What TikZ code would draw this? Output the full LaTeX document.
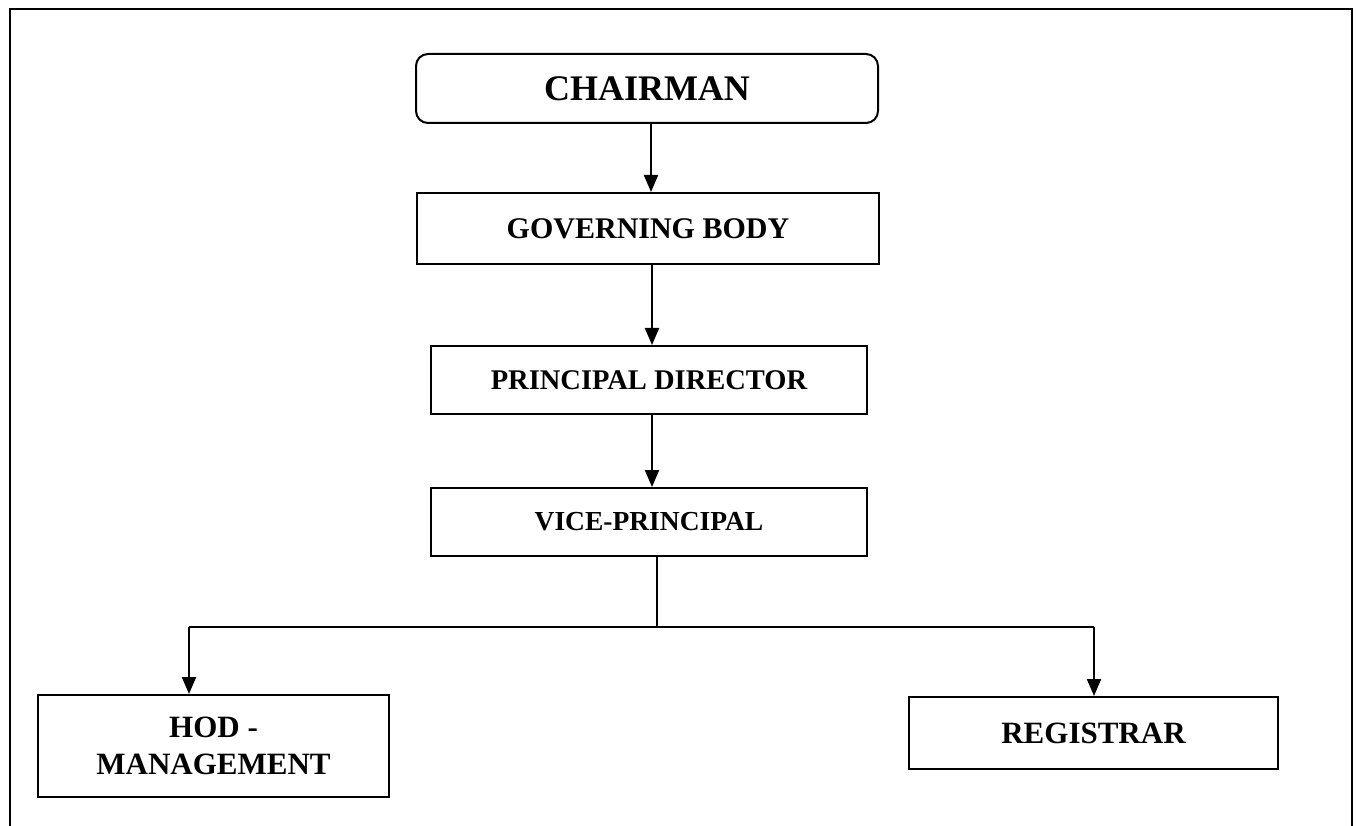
\documentclass[tikz,border=0pt]{standalone}
\usepackage{fontspec}
\setmainfont{Liberation Serif}
\usetikzlibrary{arrows.meta}
\tikzset{
	post/.style={draw,line width=2pt,minimum width=#1,inner sep=0pt,font=\bfseries},
	arr/.style={line width=2pt,-{Triangle[length=17pt,width=14pt]}}
}
\begin{document}
\begin{tikzpicture}[x=1pt,y=-1pt]
		\useasboundingbox (0,0) rectangle (1358,826);
		\draw[line width=2pt] (10,830) -- (10,9) -- (1352,9) -- (1352,830);
		\node[post=462pt,minimum height=69pt,rounded corners=12pt,font=\bfseries\fontsize{36}{40}\selectfont] at (647,88.5) (chair) {CHAIRMAN};
		\node[post=462pt,minimum height=71pt,font=\bfseries\fontsize{30}{34}\selectfont] at (648,228.5) (gov) {GOVERNING BODY};
		\node[post=436pt,minimum height=68pt,font=\bfseries\fontsize{28.5}{32}\selectfont] at (649,380) (pd) {PRINCIPAL DIRECTOR};
		\node[post=436pt,minimum height=68pt,font=\bfseries\fontsize{27.5}{32}\selectfont] at (649,522) (vp) {VICE-PRINCIPAL};
		\node[post=351pt,minimum height=102pt,align=center,font=\bfseries\fontsize{31}{37}\selectfont] at (213.5,746) (hod) {HOD -\\MANAGEMENT};
		\node[post=369pt,minimum height=72pt,font=\bfseries\fontsize{31}{36}\selectfont] at (1093.5,733) (reg) {REGISTRAR};
		\coordinate (br) at (657,627);
		\coordinate (brl) at (189,627);
		\coordinate (brr) at (1094,627);
		\draw[arr] ([xshift=4pt]chair.south) -- ([xshift=3pt]gov.north);
		\draw[arr] ([xshift=4pt]gov.south) -- ([xshift=3pt]pd.north);
		\draw[arr] ([xshift=3pt]pd.south) -- ([xshift=3pt]vp.north);
		\draw[line width=2pt] (vp.south -| br) -- (br);
		\draw[line width=2pt] (brl) -- (brr);
		\draw[arr] (brl) -- (brl |- hod.north);
		\draw[arr] (brr) -- (brr |- reg.north);
	\end{tikzpicture}
\end{document}
